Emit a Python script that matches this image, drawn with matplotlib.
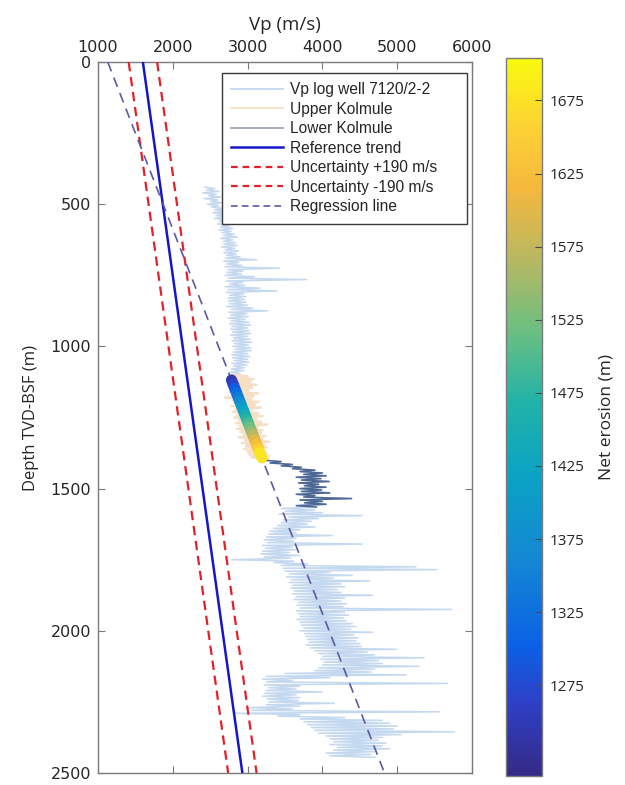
import numpy as np
import matplotlib
matplotlib.use("Agg")
import matplotlib.pyplot as plt
from matplotlib.colors import LinearSegmentedColormap, Normalize
from matplotlib.collections import LineCollection
from matplotlib.lines import Line2D

# ---------------------------------------------------------------- data
# Sonic velocity log (m/s).  Each 10 m interval is described by the low and
# high swing of the trace; depth in m TVD below sea floor.
log_step = 10

# Shallow section above the Kolmule formation (440-1090 m)
shallow_top = 440
shallow_low = [
    2430, 2450, 2400, 2480, 2420, 2500, 2460, 2520, 2560, 2540,
    2580, 2560, 2620, 2600, 2640, 2620, 2660, 2680, 2640, 2680,
    2680, 2650, 2700, 2680, 2720, 2700, 2680, 2720, 2700, 2740,
    2720, 2700, 2740, 2720, 2760, 2700, 2740, 2720, 2760, 2740,
    2740, 2760, 2720, 2780, 2750, 2770, 2740, 2780, 2760, 2790,
    2780, 2800, 2770, 2810, 2790, 2820, 2800, 2830, 2810, 2790,
    2800, 2820, 2790, 2810, 2780, 2770,
]
shallow_high = [
    2560, 2620, 2580, 2640, 2600, 2660, 2620, 2680, 2720, 2700,
    2740, 2720, 2780, 2760, 2800, 2780, 2820, 2860, 2800, 2840,
    2860, 2830, 2880, 2850, 2900, 3120, 2880, 2920, 3430, 2940,
    2920, 3090, 3790, 2940, 2960, 3160, 3390, 2950, 2980, 2960,
    2980, 3000, 3070, 3270, 2990, 3010, 2970, 3020, 3040, 3000,
    3020, 3040, 3000, 3030, 3060, 3010, 3040, 3050, 3000, 3030,
    3000, 3020, 2990, 2960, 2950, 2900,
]

# Upper Kolmule (1100-1390 m)
upper_top = 1100
upper_low = [
    2800, 2760, 2820, 2780, 2740, 2800, 2760, 2820, 2700, 2800,
    2820, 2780, 2840, 2800, 2860, 2820, 2880, 2840, 2900, 2860,
    2900, 2940, 2880, 2960, 2920, 2980, 2950, 3000, 3020, 3050,
]
upper_high = [
    3000, 3080, 3040, 3120, 3060, 3020, 3140, 3080, 3060, 3150,
    3100, 3180, 3060, 3140, 3200, 3120, 3180, 3260, 3140, 3200,
    3180, 3240, 3200, 3290, 3220, 3260, 3200, 3250, 3290, 3280,
]

# Lower Kolmule (1400-1560 m)
lower_top = 1400
lower_low = [
    3200, 3300, 3450, 3600, 3700, 3750, 3650, 3720, 3680, 3760,
    3700, 3720, 3650, 3750, 3700, 3760, 3650,
]
lower_high = [
    3450, 3600, 3720, 3900, 4000, 4050, 3980, 4090, 3950, 4050,
    3990, 4100, 3900, 4390, 4000, 4050, 3920,
]

# Deep section below the Kolmule formation (1570-2440 m)
deep_top = 1570
deep_low = [
    3450, 3500, 3420, 3550, 3480, 3450, 3400, 3350, 3300, 3280,
    3250, 3220, 3260, 3200, 3240, 3200, 3180, 3220, 2790, 3350,
    3450, 3480, 3500, 3560, 3520, 3580, 3560, 3600, 3580, 3620,
    3600, 3650, 3620, 3680, 3660, 3700, 3650, 3680, 3700, 3660,
    3700, 3720, 3750, 3700, 3760, 3780, 3800, 3820, 3780, 3840,
    3900, 3950, 4000, 3980, 4020, 4000, 3950, 3900, 3500, 3250,
    3200, 3250, 3220, 3280, 3250, 3230, 3200, 3260, 3280, 3250,
    3000, 3050, 2850, 3400, 3700, 3750, 3800, 3850, 3900, 3950,
    4050, 4100, 4150, 4100, 4200, 4150, 4050, 4100,
]
deep_high = [
    3900, 4000, 4530, 3950, 3850, 3800, 3900, 3700, 3650, 4130,
    3650, 3620, 4530, 3600, 3650, 3560, 3700, 3580, 3620, 3800,
    5250, 5530, 4100, 4400, 4150, 4630, 4250, 4300, 4200, 4250,
    4670, 4300, 4250, 4320, 4280, 5730, 4300, 4350, 4280, 4320,
    4400, 4450, 4380, 4670, 4420, 4480, 4450, 4500, 4520, 4990,
    4600, 4700, 5360, 4750, 4800, 5290, 4700, 4650, 5120, 4100,
    3600, 5670, 3700, 3650, 4000, 3650, 3700, 3680, 4160, 3700,
    3600, 5560, 3700, 4300, 4800, 4900, 5000, 4950, 5760, 5050,
    4800, 4750, 4850, 4800, 4900, 4700, 4650, 4700,
]

# Straight velocity-depth lines, given by their end points
line_depth = [0, 2500]
reference_trend_vp = [1600, 2930]
regression_vp = [1130, 4830]
uncertainty = 190  # m/s

# Net erosion estimated along the Upper Kolmule interval
erosion_depth = [1118, 1133, 1148, 1163, 1178, 1193, 1208, 1223, 1238, 1253,
                 1268, 1283, 1298, 1313, 1328, 1343, 1358, 1373, 1392]
net_erosion = [1232, 1258, 1282, 1307, 1333, 1357, 1382, 1408, 1432, 1458,
               1483, 1508, 1533, 1558, 1584, 1610, 1636, 1662, 1694]

erosion_ticks = [1275, 1325, 1375, 1425, 1475, 1525, 1575, 1625, 1675]
erosion_range = (1213, 1704)

vp_ticks = [1000, 2000, 3000, 4000, 5000, 6000]
depth_ticks = [0, 500, 1000, 1500, 2000, 2500]

# ---------------------------------------------------------------- colours
parula_like = LinearSegmentedColormap.from_list("parula_like", [
    (0.00, (0.208, 0.166, 0.529)),
    (0.10, (0.180, 0.250, 0.780)),
    (0.18, (0.040, 0.380, 0.900)),
    (0.30, (0.080, 0.530, 0.830)),
    (0.42, (0.040, 0.640, 0.770)),
    (0.52, (0.130, 0.700, 0.660)),
    (0.62, (0.420, 0.750, 0.510)),
    (0.72, (0.720, 0.720, 0.380)),
    (0.82, (0.960, 0.720, 0.240)),
    (0.91, (0.990, 0.830, 0.200)),
    (1.00, (0.976, 0.983, 0.054)),
])

c_log = "#c4d8f0"
c_upper = "#f6dfc2"
c_lower = "#4e6894"
c_trend = "#1616c8"
c_unc = "#e3202a"
c_reg = "#5a5aa6"
c_spine = "#7a7a7a"
c_text = "#262626"


# ---------------------------------------------------------------- helpers
def zigzag(top, low, high):
    """Trace swinging between the low and high value of each interval."""
    d = top + log_step * np.arange(len(low))
    depth = np.column_stack([d, d + log_step / 2]).ravel()
    vp = np.column_stack([low, high]).ravel()
    return vp, depth


vp_sh, d_sh = zigzag(shallow_top, shallow_low, shallow_high)
vp_up, d_up = zigzag(upper_top, upper_low, upper_high)
vp_lo, d_lo = zigzag(lower_top, lower_low, lower_high)
vp_dp, d_dp = zigzag(deep_top, deep_low, deep_high)

vp_all = np.concatenate([vp_sh, vp_up, vp_lo, vp_dp])
d_all = np.concatenate([d_sh, d_up, d_lo, d_dp])

# ---------------------------------------------------------------- figure
fig = plt.figure(figsize=(6.25, 7.85), dpi=100)
ax = fig.add_axes([0.1568, 0.0153, 0.5984, 0.9057])

tick_font = "DejaVu Sans"
label_font = "Open Sans"

# Well log (full), then the two Kolmule units on top
ax.plot(vp_all, d_all, color=c_log, lw=1.1, zorder=2)
ax.plot(vp_up, d_up, color=c_upper, lw=1.6, zorder=3)
ax.plot(vp_lo, d_lo, color=c_lower, lw=1.1, zorder=3)

# Reference trend with its uncertainty band
trend = np.array(reference_trend_vp, dtype=float)
ax.plot(trend, line_depth, color=c_trend, lw=1.8, zorder=4)
ax.plot(trend + uncertainty, line_depth, color=c_unc, lw=1.6,
        ls=(0, (4.2, 2.6)), zorder=4)
ax.plot(trend - uncertainty, line_depth, color=c_unc, lw=1.6,
        ls=(0, (4.2, 2.6)), zorder=4)

# Regression line through the log
ax.plot(regression_vp, line_depth, color=c_reg, lw=1.2,
        ls=(0, (6, 4)), zorder=4)

# Net erosion coloured along the regression line
e_depth = np.array(erosion_depth, dtype=float)
e_vp = np.interp(e_depth, line_depth, regression_vp)
pts = np.column_stack([e_vp, e_depth]).reshape(-1, 1, 2)
segs = np.concatenate([pts[:-1], pts[1:]], axis=1)
seg_vals = 0.5 * (np.array(net_erosion[:-1]) + np.array(net_erosion[1:]))
norm = Normalize(*erosion_range)
lc = LineCollection(segs, cmap=parula_like, norm=norm, linewidths=8,
                    capstyle="round", joinstyle="round", zorder=5)
lc.set_array(seg_vals)
ax.add_collection(lc)

# Axes layout
ax.set_xlim(1000, 6000)
ax.set_ylim(2500, 0)
ax.xaxis.set_label_position("top")
ax.xaxis.tick_top()
ax.set_xticks(vp_ticks)
ax.set_yticks(depth_ticks)
ax.tick_params(direction="in", length=5, width=0.8, color=c_spine,
               top=True, bottom=True, left=True, right=True,
               labeltop=True, labelbottom=False, labelleft=True,
               labelright=False, labelsize=11.5, labelcolor=c_text, pad=5)
for lab in ax.get_xticklabels() + ax.get_yticklabels():
    lab.set_fontfamily(tick_font)
for sp in ax.spines.values():
    sp.set_color(c_spine)
    sp.set_linewidth(1.0)

ax.set_xlabel("Vp (m/s)", fontsize=13.5, fontfamily=label_font,
              color=c_text, labelpad=7)
ax.set_ylabel("Depth TVD-BSF (m)", fontsize=12, fontfamily=label_font,
              color=c_text, labelpad=8)

# Legend
handles = [
    Line2D([], [], color=c_log, lw=1.3),
    Line2D([], [], color=c_upper, lw=1.3),
    Line2D([], [], color="#9ea6b4", lw=1.3),
    Line2D([], [], color=c_trend, lw=1.8),
    Line2D([], [], color=c_unc, lw=1.6, ls=(0, (3, 2.2))),
    Line2D([], [], color=c_unc, lw=1.6, ls=(0, (3, 2.2))),
    Line2D([], [], color=c_reg, lw=1.2, ls=(0, (4, 2.5))),
]
labels = ["Vp log well 7120/2-2", "Upper Kolmule", "Lower Kolmule",
          "Reference trend", "Uncertainty +190 m/s", "Uncertainty -190 m/s",
          "Regression line"]
leg = ax.legend(handles, labels, loc="upper left",
                bbox_to_anchor=(0.3316, 0.9845, 0.655, 0.0), mode="expand",
                borderaxespad=0, frameon=True, fancybox=False,
                framealpha=1.0, edgecolor="#3a3a3a", handlelength=3.3,
                handletextpad=0.45, labelspacing=0.29, borderpad=0.6,
                prop={"family": "Liberation Sans", "size": 11.2})
leg.get_frame().set_linewidth(1.0)
for t in leg.get_texts():
    t.set_color(c_text)

# Colour bar
cax = fig.add_axes([0.8096, 0.0115, 0.0568, 0.9146])
sm = plt.cm.ScalarMappable(norm=norm, cmap=parula_like)
cb = fig.colorbar(sm, cax=cax, ticks=erosion_ticks)
cb.outline.set_edgecolor(c_spine)
cb.outline.set_linewidth(1.0)
cax.tick_params(direction="in", length=5, width=0.8, color="#4a4a4a",
                labelsize=11, labelcolor=c_text, pad=6)
for lab in cax.get_yticklabels():
    lab.set_fontfamily(label_font)
cb.set_label("Net erosion (m)", fontsize=12.5, fontfamily=label_font,
             color=c_text, labelpad=10)

fig.savefig("out.png", dpi=100)
